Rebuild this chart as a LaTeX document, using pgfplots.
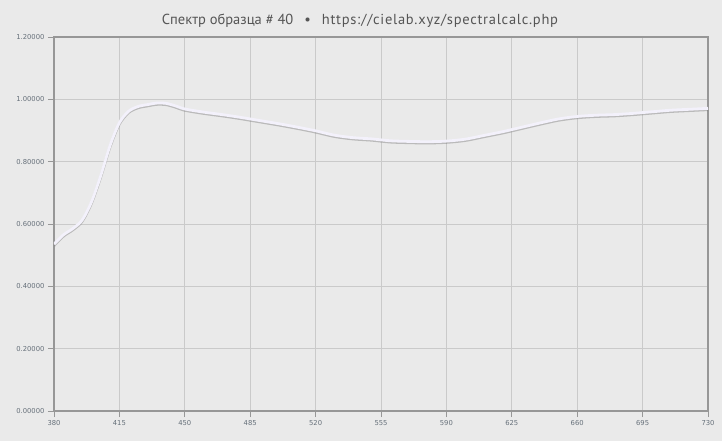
\documentclass[border=0pt]{standalone}
\usepackage{fontspec}
\setmainfont{PT Sans}
\newfontfamily\tickfont{DejaVu Sans}
\usepackage{pgfplots}
\pgfplotsset{compat=1.18}
\definecolor{bgc}{HTML}{EAEAEA}
\definecolor{gridc}{HTML}{CACACA}
\definecolor{framec}{HTML}{979797}
\definecolor{titlec}{HTML}{555555}
\definecolor{tickc}{HTML}{66707A}
\definecolor{curvec}{HTML}{F3F1FB}

\begin{document}
\begin{tikzpicture}[x=1pt,y=1pt]
  \fill[bgc] (0,0) rectangle (722,441);
  \node[text=titlec, font=\fontsize{14.5}{16}\selectfont, inner sep=0pt] at (360,420)
    {Спектр образца \# 40\hspace{11pt}\textbullet\hspace{11pt}{\addfontfeature{LetterSpace=5}https://cielab.xyz/spectralcalc.php}};
  \begin{axis}[
      at={(54pt,30pt)}, anchor=origin,
      width=654pt, height=374pt, scale only axis,
      xmin=380, xmax=730, ymin=0, ymax=1.2,
      xtick={380,415,...,730},
      ytick={0,0.2,...,1.2},
      grid=major,
      major grid style={gridc, line width=0.8pt},
      axis line style={framec, line width=2pt},
      tick style={framec, line width=0.8pt},
      tick align=outside,
      major tick length=6pt,
      tick label style={font=\tickfont\fontsize{6.8}{8}\selectfont, text=tickc},
      /pgf/number format/assume math mode=true,
      yticklabel style={/pgf/number format/.cd, fixed, fixed zerofill, precision=5},
      xticklabel style={/pgf/number format/.cd, fixed, precision=0},
      xtick pos=bottom, ytick pos=left,
      scaled ticks=false,
      clip=true,
    ]
    \pgfplotstableread{
      nm   r
      380  0.535
      385  0.565
      390  0.585
      395  0.612
      400  0.670
      405  0.755
      410  0.852
      415  0.925
      420  0.962
      425  0.977
      430  0.983
      435  0.988
      440  0.987
      445  0.979
      450  0.969
      460  0.959
      470  0.951
      480  0.942
      490  0.932
      500  0.922
      510  0.911
      520  0.899
      530  0.885
      540  0.877
      550  0.873
      560  0.867
      570  0.865
      580  0.864
      590  0.866
      600  0.872
      610  0.884
      620  0.896
      630  0.910
      640  0.924
      650  0.937
      660  0.945
      670  0.949
      680  0.951
      690  0.955
      700  0.960
      710  0.965
      720  0.968
      730  0.971
    }\spectrum
    \addplot[gray, line width=2.8pt, opacity=0.45, smooth, yshift=-1.3pt] table[x=nm, y=r] {\spectrum};
    \addplot[curvec, line width=2.8pt, smooth] table[x=nm, y=r] {\spectrum};
  \end{axis}
\end{tikzpicture}
\end{document}
